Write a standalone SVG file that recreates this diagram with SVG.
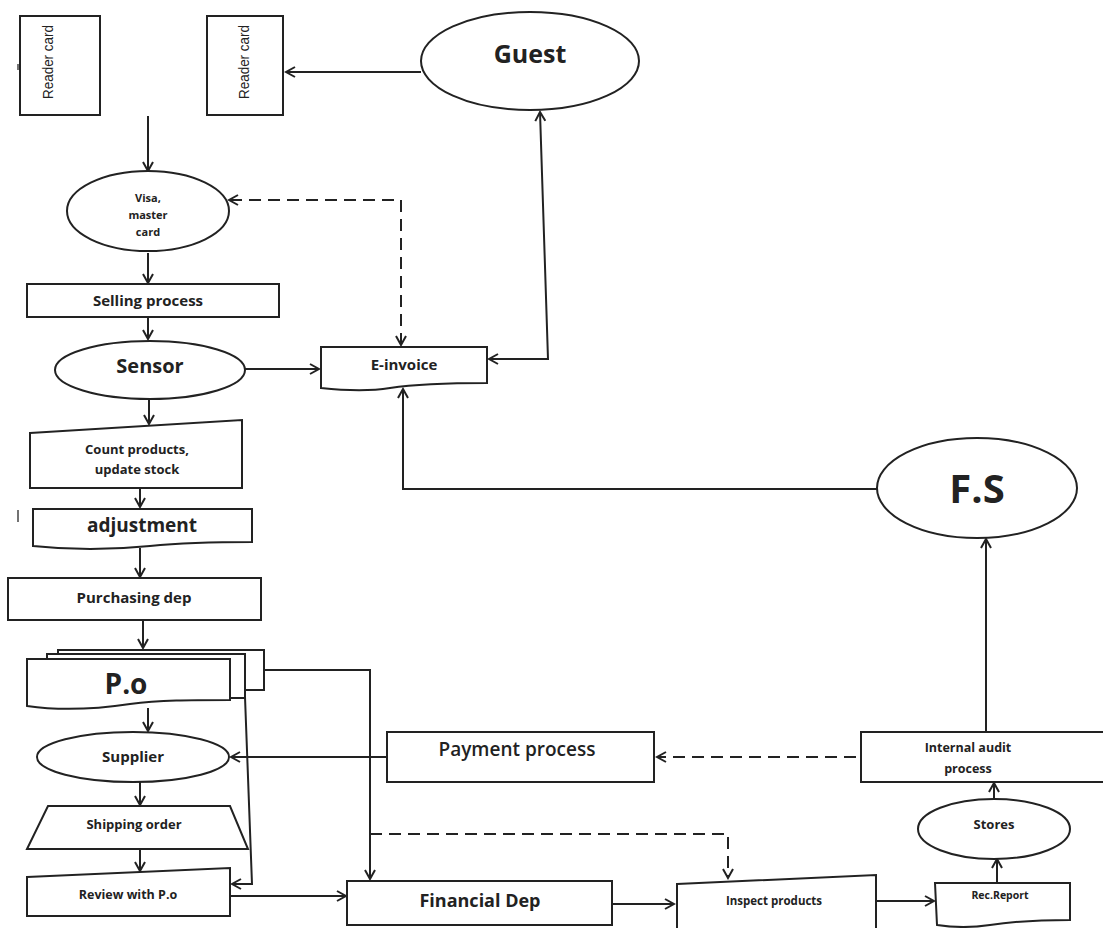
<svg xmlns="http://www.w3.org/2000/svg" width="1103" height="928" viewBox="0 0 1103 928">
<style>
.s{fill:#fff;stroke:#222;stroke-width:2}
.c{fill:none;stroke:#222;stroke-width:2}
.d{fill:none;stroke:#222;stroke-width:2;stroke-dasharray:12 7}
text{font-family:"Open Sans","Noto Sans",sans-serif;font-weight:700;fill:#222;text-anchor:middle}
text.r{font-family:"Liberation Sans",sans-serif;font-weight:400}
</style>
<defs>
<marker id="a" markerWidth="12" markerHeight="12" refX="10" refY="6" orient="auto" markerUnits="userSpaceOnUse">
<path d="M1,1 L10,6 L1,11" fill="none" stroke="#222" stroke-width="2"/>
</marker>
<marker id="as" markerWidth="12" markerHeight="12" refX="10" refY="6" orient="auto-start-reverse" markerUnits="userSpaceOnUse">
<path d="M1,1 L10,6 L1,11" fill="none" stroke="#222" stroke-width="2"/>
</marker>
</defs>
<rect width="1103" height="928" fill="#fff"/>
<g id="connectors">
<line class="c" x1="421" y1="72" x2="286" y2="72" marker-end="url(#a)"/>
<line class="c" x1="148" y1="116" x2="148" y2="171" marker-end="url(#a)"/>
<polyline class="d" points="401,345 401,200 229,200" marker-start="url(#as)" marker-end="url(#a)"/>
<line class="c" x1="148" y1="253" x2="148" y2="283" marker-end="url(#a)"/>
<line class="c" x1="148" y1="317" x2="148" y2="339" marker-end="url(#a)"/>
<line class="c" x1="245" y1="369" x2="319" y2="369" marker-end="url(#a)"/>
<polyline class="c" points="540,112 548,359 489,359" marker-start="url(#as)" marker-end="url(#a)"/>
<polyline class="c" points="877,489 403,489 403,389" marker-end="url(#a)"/>
<line class="c" x1="149" y1="400" x2="149" y2="424" marker-end="url(#a)"/>
<line class="c" x1="140" y1="488" x2="140" y2="507" marker-end="url(#a)"/>
<line class="c" x1="140" y1="548" x2="140" y2="577" marker-end="url(#a)"/>
<line class="c" x1="143" y1="620" x2="143" y2="648" marker-end="url(#a)"/>
<polyline class="c" points="264,670 370,670 370,879" marker-end="url(#a)"/>
<polyline class="d" points="370,834 728,834 728,878" marker-end="url(#a)"/>
<polyline class="c" points="245,697 252,884 232,884" marker-end="url(#a)"/>
<line class="c" x1="148" y1="708" x2="148" y2="731" marker-end="url(#a)"/>
<line class="c" x1="387" y1="757" x2="231" y2="757" marker-end="url(#a)"/>
<line class="c" x1="140" y1="782" x2="140" y2="805" marker-end="url(#a)"/>
<line class="c" x1="140" y1="849" x2="140" y2="871" marker-end="url(#a)"/>
<line class="c" x1="230" y1="896" x2="346" y2="896" marker-end="url(#a)"/>
<line class="c" x1="612" y1="904" x2="674" y2="904" marker-end="url(#a)"/>
<line class="c" x1="876" y1="901" x2="934" y2="901" marker-end="url(#a)"/>
<line class="c" x1="997" y1="883" x2="997" y2="859" marker-end="url(#a)"/>
<line class="c" x1="994" y1="800" x2="994" y2="783" marker-end="url(#a)"/>
<line class="c" x1="986" y1="732" x2="986" y2="539" marker-end="url(#a)"/>
<line class="d" x1="856" y1="757" x2="657" y2="757" marker-end="url(#a)"/>
<line x1="18" y1="510" x2="18" y2="522" stroke="#444" stroke-width="1.5"/>
<line x1="18" y1="64" x2="18" y2="70" stroke="#444" stroke-width="1.5"/>
</g>
<g id="reader1"><rect class="s" x="20" y="16" width="80" height="99"/><text class="r" transform="translate(53,62) rotate(-90)" font-size="14" textLength="74" lengthAdjust="spacingAndGlyphs">Reader card</text></g>
<g id="reader2"><rect class="s" x="207" y="16" width="76" height="99"/><text class="r" transform="translate(249,62) rotate(-90)" font-size="14" textLength="74" lengthAdjust="spacingAndGlyphs">Reader card</text></g>
<g id="guest"><ellipse class="s" cx="530" cy="61" rx="109" ry="49"/><text x="530" y="63" font-size="25">Guest</text></g>
<g id="visa"><ellipse class="s" cx="148" cy="211" rx="81" ry="40"/><text x="148" y="202" font-size="11">Visa,</text><text x="148" y="219" font-size="11">master</text><text x="148" y="236" font-size="11">card</text></g>
<g id="selling"><rect class="s" x="27" y="284" width="252" height="33"/><text x="148" y="306" font-size="15">Selling process</text></g>
<g id="sensor"><ellipse class="s" cx="150" cy="370" rx="95" ry="29"/><text x="150" y="373" font-size="20">Sensor</text></g>
<g id="einvoice"><path class="s" d="M321,347 H487 V383 C440,383 410,385 390,388 C365,392 340,390 321,388 Z"/><text x="404" y="370" font-size="15">E-invoice</text></g>
<g id="count"><path class="s" d="M30,433 L242,420 V488 H30 Z"/><text x="137" y="454" font-size="13">Count products,</text><text x="137" y="474" font-size="13">update stock</text></g>
<g id="adjust"><path class="s" d="M33,509 H252 V542 C210,542 180,543 150,546 C110,550 70,550 33,546 Z"/><text x="142" y="532" font-size="19">adjustment</text></g>
<g id="purchasing"><rect class="s" x="8" y="578" width="253" height="42"/><text x="134" y="603" font-size="15">Purchasing dep</text></g>
<g id="po">
<rect class="s" x="58" y="650" width="206" height="40"/>
<rect class="s" x="47" y="654" width="198" height="44"/>
<path class="s" d="M27,659 H230 V700 C190,700 160,700 130,704 C90,710 55,710 27,706 Z"/>
<text x="126" y="694" font-size="28">P.o</text></g>
<g id="supplier"><ellipse class="s" cx="133" cy="757" rx="96" ry="25"/><text x="133" y="762" font-size="15">Supplier</text></g>
<g id="shipping"><path class="s" d="M48,806 H230 L248,849 H27 Z"/><text x="134" y="829" font-size="13">Shipping order</text></g>
<g id="review"><path class="s" d="M27,877 L230,868 V916 H27 Z"/><text x="128" y="899" font-size="12.5">Review with P.o</text></g>
<g id="financial"><rect class="s" x="347" y="881" width="265" height="44"/><text x="480" y="907" font-size="18">Financial Dep</text></g>
<g id="inspect"><path class="s" d="M677,884 L876,875 V935 H677 Z"/><text x="774" y="905" font-size="11.5">Inspect products</text></g>
<g id="recreport"><path class="s" d="M935,883 H1070 V920 C1040,920 1010,922 990,925 C970,928 950,927 937,925 Z"/><text x="1000" y="899" font-size="10.5">Rec.Report</text></g>
<g id="stores"><ellipse class="s" cx="994" cy="829" rx="76" ry="30"/><text x="994" y="829" font-size="13">Stores</text></g>
<g id="audit"><rect class="s" x="861" y="732" width="250" height="50"/><text x="968" y="752" font-size="12.5">Internal audit</text><text x="968" y="773" font-size="12.5">process</text></g>
<g id="payment"><rect class="s" x="387" y="732" width="267" height="50"/><text x="517" y="756" font-size="19" style="font-weight:600">Payment process</text></g>
<g id="fs"><ellipse class="s" cx="977" cy="488" rx="100" ry="50"/><text x="977" y="503" font-size="40">F.S</text></g>
</svg>
